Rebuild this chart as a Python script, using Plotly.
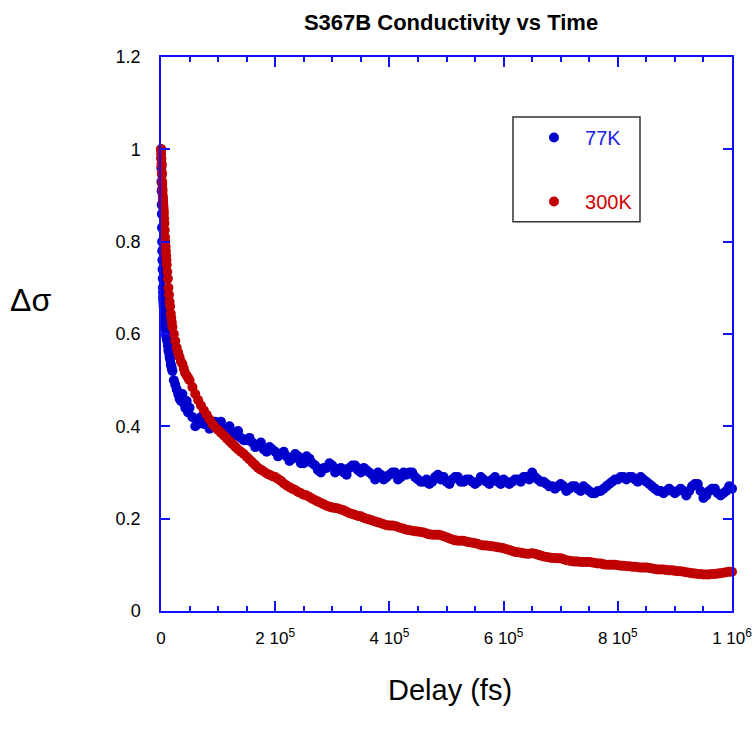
import plotly.graph_objects as go

# Delay in units of 1000 fs
delay_early_kfs = [0, 0.25, 0.5, 0.75, 1, 1.25, 1.5, 1.75, 2, 2.25, 2.5, 2.75, 3, 3.25, 3.5,
                   3.75, 4, 4.25, 4.5, 4.75, 5,
                   5.5, 6, 6.5, 7, 7.5, 8, 8.5, 9, 9.5, 10,
                   11, 12, 13, 14, 15, 16, 17, 18, 19, 20,
                   22.5, 25, 27.5, 30, 32.5, 35, 37.5, 40, 42.5, 45, 47.5, 50,
                   55, 60, 65, 70, 75, 80, 85, 90, 95]
delay_late_kfs = [100, 105, 110, 115, 120, 125, 130, 135, 140, 145, 150, 155, 160, 165, 170, 175,
                  180, 185, 190, 195, 200, 205, 210, 215, 220, 225, 230, 235, 240, 245, 250, 255,
                  260, 265, 270, 275, 280, 285, 290, 295, 300, 305, 310, 315, 320, 325, 330, 335,
                  340, 345, 350, 355, 360, 365, 370, 375, 380, 385, 390, 395, 400, 405, 410, 415,
                  420, 425, 430, 435, 440, 445, 450, 455, 460, 465, 470, 475, 480, 485, 490, 495,
                  500, 505, 510, 515, 520, 525, 530, 535, 540, 545, 550, 555, 560, 565, 570, 575,
                  580, 585, 590, 595, 600, 605, 610, 615, 620, 625, 630, 635, 640, 645, 650, 655,
                  660, 665, 670, 675, 680, 685, 690, 695, 700, 705, 710, 715, 720, 725, 730, 735,
                  740, 745, 750, 755, 760, 765, 770, 775, 780, 785, 790, 795, 800, 805, 810, 815,
                  820, 825, 830, 835, 840, 845, 850, 855, 860, 865, 870, 875, 880, 885, 890, 895,
                  900, 905, 910, 915, 920, 925, 930, 935, 940, 945, 950, 955, 960, 965, 970, 975,
                  980, 985, 990, 995, 1000]

sigma_77K_early = [1.00, 0.98, 0.96, 0.93, 0.91, 0.88, 0.86, 0.83, 0.80, 0.78, 0.76, 0.74, 0.72,
                   0.70, 0.69, 0.68, 0.675, 0.67, 0.665, 0.66, 0.655,
                   0.65, 0.64, 0.635, 0.625, 0.62, 0.615, 0.61, 0.60, 0.595, 0.59,
                   0.585, 0.575, 0.565, 0.56, 0.55, 0.545, 0.535, 0.53, 0.525, 0.52,
                   0.50, 0.49, 0.48, 0.47, 0.46, 0.455, 0.47, 0.45, 0.44, 0.455, 0.43, 0.44,
                   0.42, 0.40, 0.405, 0.42, 0.405, 0.41, 0.395, 0.40, 0.41]
sigma_77K_late = [0.40, 0.41, 0.39, 0.395, 0.40, 0.385, 0.38, 0.39, 0.375, 0.37, 0.37, 0.375, 0.365,
                  0.355, 0.36, 0.365, 0.35, 0.345, 0.355, 0.35, 0.345, 0.335, 0.34, 0.345, 0.335,
                  0.325, 0.33, 0.34, 0.335, 0.32, 0.32, 0.335, 0.33, 0.32, 0.315, 0.305, 0.30, 0.31,
                  0.31, 0.32, 0.315, 0.30, 0.305, 0.31, 0.30, 0.295, 0.31, 0.315, 0.315, 0.305, 0.30,
                  0.31, 0.305, 0.30, 0.295, 0.285, 0.30, 0.295, 0.285, 0.29, 0.295, 0.30, 0.30, 0.285,
                  0.29, 0.30, 0.295, 0.30, 0.30, 0.29, 0.285, 0.28, 0.28, 0.285, 0.275, 0.28, 0.29,
                  0.295, 0.285, 0.29, 0.28, 0.275, 0.285, 0.29, 0.29, 0.28, 0.28, 0.285, 0.285, 0.28,
                  0.275, 0.28, 0.29, 0.285, 0.28, 0.275, 0.285, 0.29, 0.28, 0.275, 0.285, 0.28, 0.275,
                  0.28, 0.285, 0.285, 0.28, 0.29, 0.29, 0.285, 0.30, 0.29, 0.285, 0.28, 0.28, 0.275,
                  0.27, 0.27, 0.265, 0.27, 0.275, 0.27, 0.26, 0.265, 0.27, 0.27, 0.265, 0.26, 0.27,
                  0.265, 0.26, 0.255, 0.255, 0.26, 0.26, 0.265, 0.27, 0.275, 0.28, 0.285, 0.285, 0.29,
                  0.29, 0.285, 0.29, 0.29, 0.285, 0.28, 0.29, 0.285, 0.28, 0.275, 0.27, 0.265, 0.26,
                  0.26, 0.255, 0.26, 0.265, 0.26, 0.255, 0.26, 0.265, 0.26, 0.25, 0.26, 0.27, 0.275,
                  0.275, 0.26, 0.245, 0.25, 0.26, 0.265, 0.265, 0.255, 0.25, 0.255, 0.26, 0.27, 0.265]

sigma_300K_early = [1.00, 0.99, 1.00, 0.98, 0.97, 0.965, 0.95, 0.945, 0.93, 0.925, 0.915, 0.91,
                    0.90, 0.895, 0.89, 0.885, 0.88, 0.875, 0.87, 0.865, 0.86,
                    0.85, 0.84, 0.825, 0.81, 0.80, 0.79, 0.78, 0.77, 0.76, 0.75,
                    0.735, 0.72, 0.70, 0.685, 0.67, 0.66, 0.645, 0.635, 0.625, 0.615,
                    0.60, 0.585, 0.57, 0.56, 0.55, 0.54, 0.535, 0.525, 0.515, 0.51, 0.505, 0.50,
                    0.485, 0.47, 0.457, 0.445, 0.435, 0.425, 0.415, 0.405, 0.398]
sigma_300K_late = [0.392, 0.386, 0.38, 0.374, 0.368, 0.362, 0.356, 0.35, 0.345, 0.34, 0.334, 0.328,
                   0.322, 0.316, 0.31, 0.306, 0.302, 0.298, 0.295, 0.292, 0.29, 0.286, 0.282, 0.276,
                   0.272, 0.268, 0.265, 0.262, 0.258, 0.255, 0.252, 0.25, 0.247, 0.243, 0.24, 0.237,
                   0.234, 0.231, 0.228, 0.226, 0.224, 0.223, 0.222, 0.22, 0.218, 0.215, 0.212, 0.21,
                   0.208, 0.206, 0.205, 0.202, 0.20, 0.198, 0.196, 0.194, 0.192, 0.19, 0.188, 0.186,
                   0.185, 0.185, 0.184, 0.182, 0.18, 0.178, 0.176, 0.175, 0.174, 0.173, 0.172, 0.171,
                   0.17, 0.168, 0.166, 0.165, 0.165, 0.165, 0.164, 0.162, 0.16, 0.157, 0.155, 0.153,
                   0.152, 0.152, 0.152, 0.15, 0.149, 0.148, 0.147, 0.145, 0.143, 0.142, 0.142, 0.141,
                   0.14, 0.139, 0.138, 0.137, 0.136, 0.134, 0.132, 0.13, 0.128, 0.127, 0.126, 0.125,
                   0.124, 0.124, 0.125, 0.124, 0.122, 0.12, 0.118, 0.117, 0.116, 0.115, 0.115, 0.114,
                   0.114, 0.112, 0.11, 0.109, 0.108, 0.107, 0.107, 0.106, 0.106, 0.106, 0.106, 0.105,
                   0.104, 0.103, 0.103, 0.101, 0.10, 0.10, 0.10, 0.10, 0.099, 0.098, 0.098, 0.097,
                   0.097, 0.096, 0.096, 0.095, 0.094, 0.094, 0.094, 0.093, 0.092, 0.091, 0.09, 0.09,
                   0.09, 0.089, 0.088, 0.088, 0.087, 0.086, 0.086, 0.085, 0.084, 0.083, 0.082, 0.081,
                   0.08, 0.08, 0.079, 0.079, 0.079, 0.08, 0.08, 0.081, 0.082, 0.083, 0.084, 0.085, 0.085]

x_tickvals = [0, 200000, 400000, 600000, 800000, 1000000]
x_ticktext = ["0", "2 10<sup>5</sup>", "4 10<sup>5</sup>", "6 10<sup>5</sup>",
              "8 10<sup>5</sup>", "1 10<sup>6</sup>"]
y_tickvals = [0, 0.2, 0.4, 0.6, 0.8, 1.0, 1.2]
y_ticktext = ["0", "0.2", "0.4", "0.6", "0.8", "1", "1.2"]

delay_fs = [d * 1000 for d in delay_early_kfs + delay_late_kfs]
sigma_77K = sigma_77K_early + sigma_77K_late
sigma_300K = sigma_300K_early + sigma_300K_late

FONT = "Arial, Liberation Sans, sans-serif"
BLUE = "#0000CC"
RED = "#C00000"
AXIS = "#1010FF"
MS = 10

fig = go.Figure()
fig.add_trace(go.Scatter(
    x=delay_fs, y=sigma_77K, mode="markers",
    name="<span style='color:#2020F0'>&nbsp;&nbsp;77K</span>",
    legendgroup="a", cliponaxis=False, hoverinfo="skip",
    marker=dict(color=BLUE, size=MS, symbol="circle"),
))
fig.add_trace(go.Scatter(
    x=delay_fs, y=sigma_300K, mode="markers",
    name="<span style='color:#D00000'>&nbsp;&nbsp;300K</span>",
    legendgroup="b", cliponaxis=False, hoverinfo="skip",
    marker=dict(color=RED, size=MS, symbol="circle"),
))

W, H = 755, 734
L, T = 161, 57
R = W - 732
B = H - 611.5
pw = W - L - R
ph = H - T - B


def px_x(p):
    return (p - L) / pw


def px_y(p):
    return (H - B - p) / ph


fig.update_layout(
    width=W, height=H,
    margin=dict(l=L, r=R, t=T, b=B, autoexpand=False),
    paper_bgcolor="white", plot_bgcolor="white",
    font=dict(family=FONT, size=17, color="black"),
    title=dict(text="<b>S367B Conductivity vs Time</b>", x=px_x(451), xanchor="center",
               xref="paper", y=1 - 22 / H, yanchor="middle", yref="container",
               font=dict(family=FONT, size=22, color="black")),
    showlegend=True,
    legend=dict(
        x=px_x(534), xanchor="left", y=px_y(118), yanchor="top",
        bgcolor="rgba(0,0,0,0)", borderwidth=0,
        tracegroupgap=35, itemsizing="trace",
        font=dict(family=FONT, size=20),
    ),
    xaxis=dict(
        range=[0, 1000000], showgrid=False, zeroline=False, automargin=False,
        showline=True, linecolor=AXIS, linewidth=1.5, mirror="ticks",
        ticks="inside", ticklen=10, tickwidth=1.5, tickcolor=AXIS,
        tickmode="array", tickvals=x_tickvals, ticktext=x_ticktext,
        ticklabelstandoff=11,
        minor=dict(ticks="inside", ticklen=5, tickwidth=1.5, tickcolor=AXIS,
                   dtick=50000, tick0=0, showgrid=False),
        tickfont=dict(family=FONT, size=17, color="black"),
    ),
    yaxis=dict(
        range=[0, 1.2], showgrid=False, zeroline=False, automargin=False,
        showline=True, linecolor=AXIS, linewidth=1.5, mirror="ticks",
        ticks="inside", ticklen=9, tickwidth=1.5, tickcolor=AXIS,
        tickmode="array", tickvals=y_tickvals, ticktext=y_ticktext,
        ticklabelstandoff=15,
        tickfont=dict(family=FONT, size=18, color="black"),
    ),
    shapes=[dict(type="rect", xref="paper", yref="paper",
                 x0=px_x(513), x1=px_x(640), y0=px_y(222), y1=px_y(117),
                 line=dict(color="#333333", width=1.5), fillcolor="rgba(0,0,0,0)")],
    annotations=[
        dict(text="Δσ", xref="paper", yref="paper", x=px_x(30), y=px_y(300),
             xanchor="center", yanchor="middle", showarrow=False,
             font=dict(family=FONT, size=32, color="black")),
        dict(text="Delay (fs)", xref="paper", yref="paper", x=px_x(450), y=px_y(691),
             xanchor="center", yanchor="middle", showarrow=False,
             font=dict(family=FONT, size=29, color="black")),
    ],
)

fig.write_html("out.html", config={"displayModeBar": False},
               post_script="document.body.style.margin='0';document.body.style.overflow='hidden';")
